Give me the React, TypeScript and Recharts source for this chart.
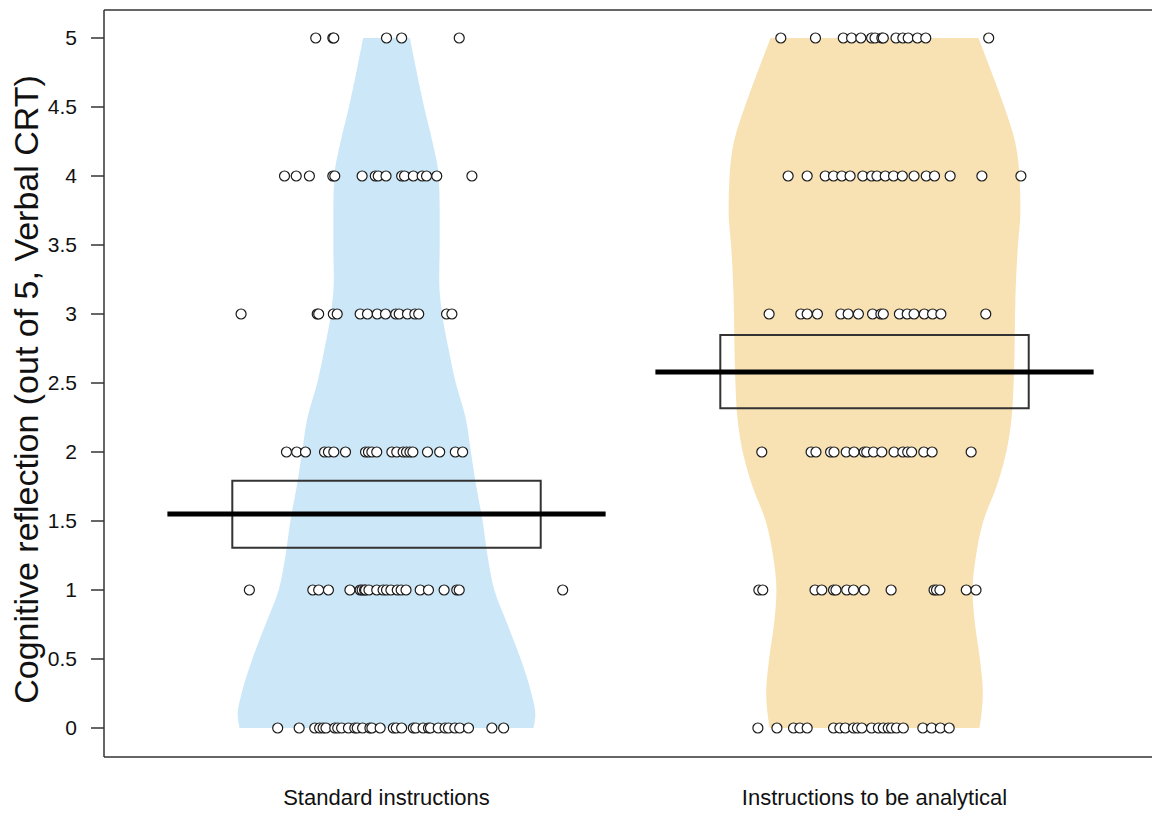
import React from 'react';
import { ComposedChart, Area, Scatter, XAxis, YAxis, ReferenceLine, ReferenceArea } from 'recharts';

// groups sit at x = 1 and x = 2
const groupNames = ['Standard instructions', 'Instructions to be analytical'];
const scoreTicks = [0, 0.5, 1, 1.5, 2, 2.5, 3, 3.5, 4, 4.5, 5];

// violin outline: half-width of each bean at a given score
const violinScore = [0, 0.1, 0.25, 0.5, 0.75, 1, 1.25, 1.5, 1.75, 2, 2.25, 2.5, 2.75, 3, 3.25, 3.5, 3.75, 4, 4.25, 4.5, 4.75, 5];
const standardHalfWidth = [0.301, 0.305, 0.297, 0.275, 0.248, 0.221, 0.207, 0.197, 0.184, 0.173, 0.162, 0.142, 0.127, 0.114, 0.108, 0.109, 0.109, 0.107, 0.094, 0.077, 0.062, 0.048];
const analyticalHalfWidth = [0.215, 0.219, 0.222, 0.216, 0.206, 0.201, 0.208, 0.223, 0.25, 0.27, 0.281, 0.285, 0.287, 0.288, 0.29, 0.294, 0.299, 0.297, 0.288, 0.266, 0.24, 0.213];

// mean and interval box per group
const groupMean = [1.551, 2.58];
const groupLower = [1.307, 2.317];
const groupUpper = [1.792, 2.848];

// jittered raw points, x positions listed per score (0..5)
const standardX = [
  [0.777, 0.821, 0.853, 0.863, 0.87, 0.876, 0.894, 0.9, 0.908, 0.922, 0.935, 0.94, 0.951, 0.966, 0.97, 0.987, 1.014, 1.02, 1.031, 1.055, 1.06, 1.075, 1.086, 1.09, 1.106, 1.12, 1.127, 1.14, 1.15, 1.168, 1.216, 1.24],
  [0.719, 0.849, 0.861, 0.881, 0.925, 0.946, 0.95, 0.955, 0.957, 0.964, 0.98, 0.993, 1.0, 1.009, 1.022, 1.03, 1.04, 1.069, 1.086, 1.118, 1.144, 1.149, 1.361],
  [0.795, 0.816, 0.834, 0.873, 0.881, 0.892, 0.916, 0.957, 0.963, 0.97, 0.98, 1.011, 1.021, 1.034, 1.041, 1.048, 1.054, 1.084, 1.109, 1.141, 1.156],
  [0.702, 0.858, 0.861, 0.891, 0.899, 0.946, 0.961, 0.981, 0.998, 1.019, 1.026, 1.043, 1.058, 1.066, 1.123, 1.134],
  [0.791, 0.815, 0.842, 0.89, 0.894, 0.95, 0.977, 0.983, 0.999, 1.031, 1.037, 1.055, 1.073, 1.082, 1.103, 1.175],
  [0.855, 0.89, 0.892, 1.0, 1.031, 1.149],
];
const analyticalX = [
  [1.761, 1.8, 1.834, 1.847, 1.862, 1.916, 1.929, 1.94, 1.957, 1.965, 1.974, 1.994, 2.008, 2.018, 2.028, 2.035, 2.045, 2.059, 2.099, 2.117, 2.135, 2.153],
  [1.763, 1.771, 1.878, 1.892, 1.916, 1.921, 1.943, 1.957, 1.979, 2.034, 2.122, 2.127, 2.134, 2.188, 2.208],
  [1.769, 1.87, 1.88, 1.91, 1.917, 1.942, 1.958, 1.979, 1.984, 1.998, 2.015, 2.04, 2.058, 2.068, 2.076, 2.101, 2.118, 2.198],
  [1.784, 1.849, 1.862, 1.883, 1.931, 1.946, 1.967, 1.996, 2.013, 2.018, 2.051, 2.067, 2.081, 2.102, 2.119, 2.136, 2.228],
  [1.823, 1.862, 1.899, 1.916, 1.933, 1.95, 1.976, 1.994, 2.005, 2.022, 2.039, 2.057, 2.081, 2.106, 2.123, 2.155, 2.22, 2.3],
  [1.808, 1.879, 1.936, 1.953, 1.972, 1.994, 2.001, 2.015, 2.018, 2.044, 2.058, 2.069, 2.088, 2.105, 2.234],
];

const X_MIN = 0.4211;
const X_MAX = 2.5891;
const Y_MIN = -0.2101;
const Y_MAX = 5.2029;

const FONT = '"Liberation Sans", Arial, Helvetica, sans-serif';
const AXIS_COLOR = '#333';

const violinData = violinScore.map((y, i) => ({
  y,
  standard: [1 - standardHalfWidth[i], 1 + standardHalfWidth[i]],
  analytical: [2 - analyticalHalfWidth[i], 2 + analyticalHalfWidth[i]],
}));

const toPoints = (rows: number[][]) =>
  rows.flatMap((xs, score) => xs.map((x) => ({ x, y: score })));

const standardPoints = toPoints(standardX);
const analyticalPoints = toPoints(analyticalX);

const Dot = (props: any) => {
  const { cx, cy } = props;
  if (cx == null || cy == null) return null;
  return <circle cx={cx} cy={cy} r={5} fill="#fff" stroke="#1a1a1a" strokeWidth={1.2} />;
};

const YTitle = (props: any) => {
  const vb = props.viewBox || { x: 0, y: 10, width: 104, height: 747 };
  const x = vb.x + 37.5;
  const y = vb.y + vb.height / 2 + 6;
  return (
    <text
      x={x}
      y={y}
      transform={`rotate(-90, ${x}, ${y})`}
      textAnchor="middle"
      fontSize={34}
      fontFamily={FONT}
      fill="#111"
    >
      Cognitive reflection (out of 5, Verbal CRT)
    </text>
  );
};

const App: React.FC = () => {
  return (
    <div
      style={{
        position: 'absolute',
        left: 0,
        top: 0,
        width: 1152,
        height: 813,
        overflow: 'hidden',
        background: '#fff',
        fontFamily: FONT,
      }}
    >
      <ComposedChart
        width={1162}
        height={813}
        layout="vertical"
        data={violinData}
        margin={{ top: 10, right: 0, bottom: 0, left: 0 }}
      >
        <XAxis
          type="number"
          dataKey="x"
          domain={[X_MIN, X_MAX]}
          allowDataOverflow
          ticks={[1, 2]}
          interval={0}
          tickFormatter={(v: number) => groupNames[Math.round(v) - 1] ?? ''}
          height={56}
          tickLine={false}
          tickSize={0}
          tickMargin={32}
          axisLine={{ stroke: AXIS_COLOR, strokeWidth: 1.5 }}
          tick={{ fontSize: 22, fill: '#111', fontFamily: FONT }}
        />
        <YAxis
          type="number"
          dataKey="y"
          domain={[Y_MIN, Y_MAX]}
          allowDataOverflow
          reversed
          ticks={scoreTicks}
          interval={0}
          width={104}
          tickSize={13}
          tickMargin={14}
          axisLine={{ stroke: AXIS_COLOR, strokeWidth: 1.5 }}
          tickLine={{ stroke: AXIS_COLOR, strokeWidth: 1.5 }}
          tick={{ fontSize: 21, fill: '#111', fontFamily: FONT }}
          label={<YTitle />}
        />
        <ReferenceLine y={Y_MAX} stroke={AXIS_COLOR} strokeWidth={1.5} ifOverflow="visible" />

        <Area
          dataKey="standard"
          type="monotone"
          fill="#CCE8F8"
          fillOpacity={1}
          stroke="none"
          isAnimationActive={false}
          activeDot={false}
          dot={false}
        />
        <Area
          dataKey="analytical"
          type="monotone"
          fill="#F8E2B3"
          fillOpacity={1}
          stroke="none"
          isAnimationActive={false}
          activeDot={false}
          dot={false}
        />

        <Scatter data={standardPoints} shape={Dot} isAnimationActive={false} />
        <Scatter data={analyticalPoints} shape={Dot} isAnimationActive={false} />

        {groupMean.map((m, i) => (
          <ReferenceArea
            key={`box-${i}`}
            x1={i + 1 - 0.316}
            x2={i + 1 + 0.316}
            y1={groupLower[i]}
            y2={groupUpper[i]}
            fill="none"
            fillOpacity={0}
            stroke="#333"
            strokeWidth={2}
            ifOverflow="visible"
          />
        ))}
        {groupMean.map((m, i) => (
          <ReferenceLine
            key={`mean-${i}`}
            segment={[
              { x: i + 1 - 0.449, y: m },
              { x: i + 1 + 0.449, y: m },
            ]}
            stroke="#000"
            strokeWidth={5}
            ifOverflow="visible"
          />
        ))}
      </ComposedChart>
    </div>
  );
};

export default App;
